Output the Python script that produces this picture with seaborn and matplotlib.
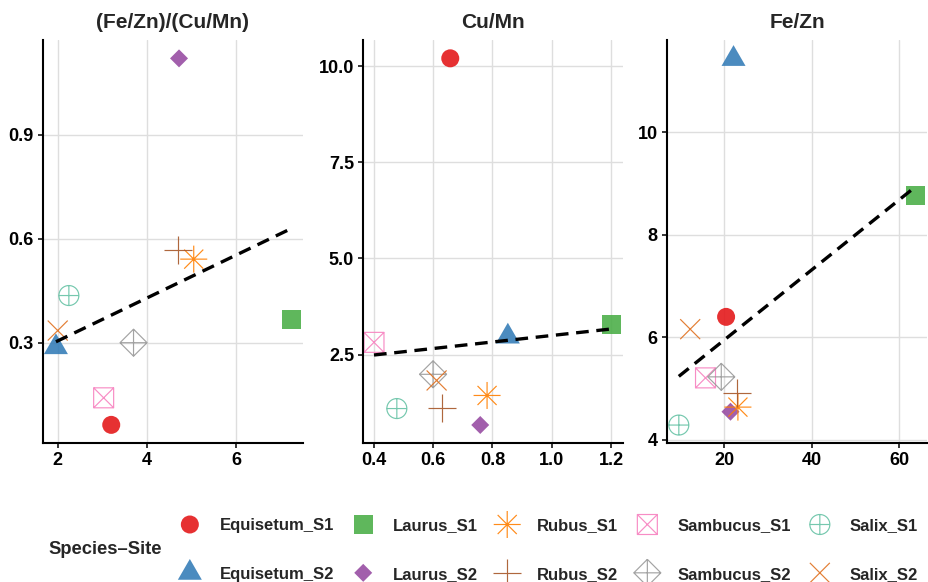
import numpy as np
import pandas as pd
import matplotlib
matplotlib.use("Agg")
import matplotlib.pyplot as plt
from matplotlib.path import Path
import seaborn as sns

# ---------------- data ----------------
species_site = ["Equisetum_S1", "Equisetum_S2", "Laurus_S1", "Laurus_S2",
                "Rubus_S1", "Rubus_S2", "Sambucus_S1", "Sambucus_S2",
                "Salix_S1", "Salix_S2"]

panel_titles = ["(Fe/Zn)/(Cu/Mn)", "Cu/Mn", "Fe/Zn"]

ratio_x = [3.20, 1.96, 7.25, 4.72, 5.05, 4.69, 3.03, 3.70, 2.25, 2.00]
ratio_y = [0.063, 0.287, 0.366, 1.12, 0.541, 0.567, 0.141, 0.300, 0.436, 0.335]

cumn_x = [0.658, 0.852, 1.200, 0.759, 0.782, 0.630, 0.401, 0.600, 0.478, 0.612]
cumn_y = [10.20, 2.97, 3.29, 0.673, 1.44, 1.11, 2.82, 1.99, 1.10, 1.83]

fezn_x = [20.4, 22.1, 63.7, 21.4, 23.1, 22.9, 15.7, 19.3, 9.6, 12.2]
fezn_y = [6.40, 11.43, 8.77, 4.55, 4.64, 4.91, 5.21, 5.23, 4.29, 6.16]

xtick_vals = [[2, 4, 6], [0.4, 0.6, 0.8, 1.0, 1.2], [20, 40, 60]]
xtick_labels = [["2", "4", "6"], ["0.4", "0.6", "0.8", "1.0", "1.2"], ["20", "40", "60"]]
ytick_vals = [[0.3, 0.6, 0.9], [2.5, 5.0, 7.5, 10.0], [4, 6, 8, 10]]
ytick_labels = [["0.3", "0.6", "0.9"], ["2.5", "5.0", "7.5", "10.0"], ["4", "6", "8", "10"]]

df = pd.DataFrame({"species_site": species_site,
                   "x0": ratio_x, "y0": ratio_y,
                   "x1": cumn_x, "y1": cumn_y,
                   "x2": fezn_x, "y2": fezn_y})

# ---------------- styles ----------------
M, L, C = Path.MOVETO, Path.LINETO, Path.CLOSEPOLY


def seg_path(segs):
    verts, codes = [], []
    for a, b in segs:
        verts += [a, b]
        codes += [M, L]
    return Path(verts, codes)


tri = Path([(0, 1), (-0.866, -0.5), (0.866, -0.5), (0, 1)], [M, L, L, C])
square_outline = Path([(-1, -1), (1, -1), (1, 1), (-1, 1), (-1, -1)], [M, L, L, L, C])
diamond_outline = Path([(0, 1), (1, 0), (0, -1), (-1, 0), (0, 1)], [M, L, L, L, C])
plus_seg = seg_path([((-1, 0), (1, 0)), ((0, -1), (0, 1))])
x_seg = seg_path([((-1, -1), (1, 1)), ((-1, 1), (1, -1))])
d = 0.7071
xs_seg = seg_path([((-d, -d), (d, d)), ((-d, d), (d, -d))])

box_x = Path.make_compound_path(square_outline, x_seg)
oplus = Path.make_compound_path(Path.unit_circle(), plus_seg)
diam_plus = Path.make_compound_path(diamond_outline, plus_seg)
asterisk = Path.make_compound_path(plus_seg, xs_seg)

styles = {
    "Equisetum_S1": dict(marker="o", s=168, color="#E41A1C", filled=True),
    "Equisetum_S2": dict(marker=tri, s=398, color="#377EB8", filled=True),
    "Laurus_S1":    dict(marker="s", s=187, color="#4DAF4A", filled=True),
    "Laurus_S2":    dict(marker="D", s=84, color="#984EA3", filled=True),
    "Rubus_S1":     dict(marker=asterisk, s=378, color="#FF7F00", filled=False),
    "Rubus_S2":     dict(marker=plus_seg, s=406, color="#A65628", filled=False),
    "Sambucus_S1":  dict(marker=box_x, s=207, color="#F781BF", filled=False),
    "Sambucus_S2":  dict(marker=diam_plus, s=378, color="#999999", filled=False),
    "Salix_S1":     dict(marker=oplus, s=207, color="#66C2A5", filled=False),
    "Salix_S2":     dict(marker=x_seg, s=207, color="#E0701E", filled=False),
}

sns.set_style("white")
plt.rcParams["font.family"] = ["Liberation Sans", "DejaVu Sans"]
plt.rcParams["font.weight"] = "bold"
plt.rcParams["axes.titleweight"] = "bold"

W, H = 929, 582
fig = plt.figure(figsize=(W / 100, H / 100), dpi=100)

panel_left = [43, 363.3, 667]
panel_w = 260
ax_top, ax_bot = 40, 443
xlims = [(1.67, 7.50), (0.365, 1.241), (6.9, 66.3)]
ylims = [(0.0107, 1.173), (0.205, 10.676), (3.94, 11.8)]

axes = []
for i in range(3):
    ax = fig.add_axes([panel_left[i] / W, (H - ax_bot) / H, panel_w / W, (ax_bot - ax_top) / H])
    axes.append(ax)
    xcol, ycol = f"x{i}", f"y{i}"
    for name in species_site:
        st = styles[name]
        sub = df[df["species_site"] == name]
        kw = dict(marker=st["marker"], s=st["s"], color=st["color"], alpha=0.9, zorder=2)
        if st["filled"]:
            kw.update(edgecolor="none", linewidth=0)
        else:
            kw.update(facecolor="none", edgecolor=st["color"], linewidth=0.85)
        sns.scatterplot(data=sub, x=xcol, y=ycol, ax=ax,
                        label=name if i == 0 else None, legend=False, **kw)
    sns.regplot(data=df, x=xcol, y=ycol, ax=ax, scatter=False, ci=None,
                color="black", truncate=True,
                line_kws=dict(linestyle=(0, (3.8, 2.3)), linewidth=2.4, zorder=3))

    ax.set_xlim(*xlims[i])
    ax.set_ylim(*ylims[i])
    ax.set_xticks(xtick_vals[i], xtick_labels[i])
    ax.set_yticks(ytick_vals[i], ytick_labels[i])
    ax.set_xlabel("")
    ax.set_ylabel("")
    ax.set_title(panel_titles[i], fontsize=15, fontweight="bold", pad=8.5)
    ax.grid(True, color="#DEDEDE", linewidth=1.0)
    ax.set_axisbelow(True)
    for sp in ["top", "right"]:
        ax.spines[sp].set_visible(False)
    for sp in ["left", "bottom"]:
        ax.spines[sp].set_color("black")
        ax.spines[sp].set_linewidth(1.5)
    ax.tick_params(axis="both", which="major", direction="out", length=3.6, width=1.1,
                   color="black", pad=3.0, labelsize=13, labelcolor="black",
                   bottom=True, left=True)
    for lab in ax.get_xticklabels() + ax.get_yticklabels():
        lab.set_fontweight("bold")

handles, labels = axes[0].get_legend_handles_labels()
fig.legend(handles, labels, ncol=5, loc="center left",
           bbox_to_anchor=(0.19, 1 - 550 / H), frameon=False,
           prop=dict(size=12, weight="bold"),
           handlelength=1.6, handletextpad=1.0, columnspacing=0.94,
           labelspacing=2.0, borderpad=0, borderaxespad=0,
           scatterpoints=1, scatteryoffsets=[0.5])
fig.text(48 / W, 1 - 550 / H, "Species\u2013Site", ha="left", va="center",
         fontsize=13.2, fontweight="bold")

fig.savefig("out.png", dpi=100)
